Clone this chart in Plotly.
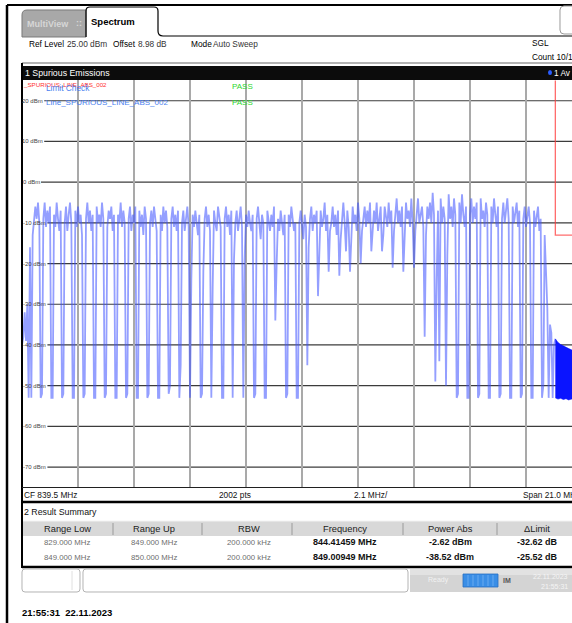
import numpy as np
import plotly.graph_objects as go

W, H = 572, 623
SANS = "Liberation Sans, Arial, sans-serif"

# ---- values ----
x_range_mhz = [829.0, 849.625]          # 829 .. 850 MHz span, right edge of the screenshot is cut
y_range_dbm = [-75.0, 25.0]             # ref level 25 dBm, 10 dB/div
grid_dbm = [20, 10, 0, -10, -20, -30, -40, -50, -60, -70]

start_mhz = 829.0
step_mhz = 0.05   # trace re-read every 50 kHz

lead_in_dbm = [-40, -38, -32, -39, -30, -53, -16, -53, -13, -10, -6, -9, -5, -10]

# one row per 400 kHz slot: notch (2 samples) then 6 samples of the carrier top
slot_dbm = [
    [-53, -52, -9, -5, -11, -7, -10, -6],
    [-53, -53, -8, -11, -5, -9, -12, -7],
    [-53, -52, -10, -6, -12, -8, -5, -10],
    [-53, -53, -7, -11, -6, -10, -8, -13],
    [-53, -52, -9, -5, -10, -7, -12, -8],
    [-53, -53, -6, -10, -8, -11, -5, -9],
    [-53, -52, -11, -7, -9, -6, -12, -8],
    [-53, -53, -8, -10, -5, -11, -7, -10],
    [-53, -52, -9, -6, -12, -8, -10, -6],
    [-53, -53, -7, -11, -8, -13, -6, -9],
    [-53, -52, -10, -7, -11, -6, -9, -12],
    [-53, -53, -8, -12, -6, -10, -7, -11],
    [-52, -50, -9, -6, -11, -8, -12, -7],
    [-53, -45, -10, -7, -12, -9, -6, -11],
    [-53, -24, -8, -11, -7, -10, -13, -8],
    [-53, -52, -22, -9, -6, -11, -8, -12],
    [-53, -26, -7, -10, -12, -6, -9, -11],
    [-53, -53, -9, -6, -11, -8, -13, -7],
    [-53, -19, -10, -7, -12, -9, -6, -11],
    [-53, -19, -8, -11, -7, -10, -12, -8],
    [-53, -52, -9, -6, -11, -14, -8, -10],
    [-53, -53, -7, -10, -12, -8, -11, -6],
    [-34, -20, -9, -12, -7, -10, -13, -8],
    [-53, -52, -8, -11, -6, -9, -12, -10],
    [-53, -53, -10, -7, -11, -14, -8, -11],
    [-45, -16, -9, -6, -12, -8, -10, -7],
    [-28, -15, -7, -11, -9, -5, -12, -8],
    [-22, -12, -10, -6, -11, -8, -13, -7],
    [-23, -14, -8, -5, -10, -17, -7, -11],
    [-22, -13, -6, -10, -8, -12, -5, -9],
    [-20, -12, -9, -6, -11, -7, -10, -5],
    [-17, -11, -7, -10, -5, -12, -8, -6],
    [-17, -13, -6, -9, -11, -5, -10, -7],
    [-21, -12, -8, -4, -10, -7, -11, -6],
    [-22, -14, -5, -9, -7, -11, -4, -10],
    [-21, -12, -7, -4, -10, -8, -6, -11],
    [-38, -13, -6, -9, -5, -10, -2.6, -8],
    [-49, -24, -7, -44, -4, -10, -6, -9],
    [-50, -18, -3, -9, -6, -11, -4, -8],
    [-53, -52, -5, -10, -3, -8, -11, -6],
    [-53, -53, -8, -4, -10, -6, -9, -5],
    [-53, -52, -4, -9, -7, -11, -5, -8],
    [-53, -53, -6, -10, -4, -8, -11, -6],
    [-53, -52, -9, -5, -10, -7, -4, -9],
    [-53, -53, -6, -10, -8, -5, -11, -7],
    [-53, -52, -9, -6, -11, -8, -6, -10],
    [-53, -53, -7, -11, -8, -6, -12, -9],
]
tail_dbm = [-53, -50, -13, -22, -31, -53, -35, -37, -53, -40, -38.5]

# 849-850 MHz range (dense trace)
band2_mhz = [849.0, 849.1, 849.2, 849.3, 849.4, 849.5, 849.6, 849.7, 849.8, 849.9, 850.0]
band2_top_dbm = [-38.5, -39.4, -39.9, -40.3, -40.6, -40.9, -41.2, -41.4, -41.6, -41.8, -42.0]
band2_floor_dbm = [-53.0, -53.3, -53.1, -53.4, -53.2, -53.5, -53.3, -53.4, -53.2, -53.4, -53.3]

limit_mhz = [829.0, 849.0, 849.0, 850.0]
limit_dbm = [30.0, 30.0, -13.0, -13.0]

summary_cols = ["Range Low", "Range Up", "RBW", "Frequency", "Power Abs", "ΔLimit"]
summary_rows = [
    ["829.000 MHz", "849.000 MHz", "200.000 kHz", "844.41459 MHz", "-2.62 dBm", "-32.62 dB"],
    ["849.000 MHz", "850.000 MHz", "200.000 kHz", "849.00949 MHz", "-38.52 dBm", "-25.52 dB"],
]

levels = lead_in_dbm + [v for row in slot_dbm for v in row] + tail_dbm
freqs = start_mhz + step_mhz * np.arange(len(levels))


def P(x, y):
    return f"{x / W:.5f},{1 - y / H:.5f}"


shapes = []
annotations = []


def line(x0, y0, x1, y1, color="black", width=1, layer="above"):
    shapes.append(dict(type="line", xref="paper", yref="paper", x0=x0 / W, x1=x1 / W,
                       y0=1 - y0 / H, y1=1 - y1 / H, line=dict(color=color, width=width), layer=layer))


def rect(x0, y0, x1, y1, fill, lc="rgba(0,0,0,0)", lw=0, layer="above"):
    shapes.append(dict(type="rect", xref="paper", yref="paper", x0=x0 / W, x1=x1 / W,
                       y0=1 - y1 / H, y1=1 - y0 / H, fillcolor=fill,
                       line=dict(color=lc, width=lw), layer=layer))


def path(d, fill="rgba(0,0,0,0)", lc="black", lw=1):
    shapes.append(dict(type="path", xref="paper", yref="paper", path=d, fillcolor=fill,
                       line=dict(color=lc, width=lw)))


def text(x, y, s, size=8, color="#222", anchor="left", family=SANS):
    annotations.append(dict(x=x / W, y=1 - y / H, xref="paper", yref="paper", text=s,
                            showarrow=False, xanchor=anchor, yanchor="middle", borderpad=0,
                            font=dict(family=family, size=size, color=color)))


fig = go.Figure()

fig.add_trace(go.Scatter(x=limit_mhz, y=limit_dbm, mode="lines",
                         line=dict(color="rgba(255,60,60,0.75)", width=1.3), hoverinfo="skip"))
fig.add_trace(go.Scatter(x=freqs, y=levels, mode="lines",
                         line=dict(color="rgba(60,80,255,0.55)", width=1.8), hoverinfo="skip"))
fig.add_trace(go.Scatter(x=band2_mhz + band2_mhz[::-1], y=band2_top_dbm + band2_floor_dbm[::-1],
                         mode="lines", fill="toself", fillcolor="#0a14ff",
                         line=dict(color="#0a14ff", width=0.6), hoverinfo="skip"))

# horizontal grid lines start right after their labels
for v in grid_dbm:
    lab = f"{v} dBm"
    x0 = 25 + 3.2 * len(lab)
    shapes.append(dict(type="line", xref="paper", yref="y", x0=x0 / W, x1=1, y0=v, y1=v,
                       line=dict(color="#3c3c3c", width=1.2), layer="between"))
    annotations.append(dict(x=x0 / W, y=v, xref="paper", yref="y", text=lab, showarrow=False,
                            xanchor="right", yanchor="middle", borderpad=0,
                            font=dict(family=SANS, size=6, color="#444")))

# ---- window chrome ----
line(7, 5, 572, 5, "black", 2)
line(7, 5, 7, 623, "black", 2.5)

# tabs
path(f"M {P(22,37)} L {P(22,15)} Q {P(22,10)} {P(27,10)} L {P(86,10)} L {P(86,37)} Z",
     fill="#a8a8a8", lc="#7a7a7a", lw=1)
text(26, 24, "<b>MultiView</b>", 9, "#d6d6d6")
text(75, 23, "<b>::</b>", 9, "#d6d6d6")
path(f"M {P(86,37)} L {P(86,11)} Q {P(86,7)} {P(90,7)} L {P(154,7)} Q {P(158,7)} {P(158,11)} "
     f"L {P(158,31)} Q {P(158,36)} {P(163,36)} L {P(572,36)}", lc="black", lw=1.2)
text(90, 22, "<b>Spectrum</b>", 9.5, "black")
path(f"M {P(582,34)} L {P(564,34)} Q {P(560,34)} {P(560,30)} L {P(560,10)} Q {P(560,6)} {P(564,6)} L {P(582,6)}",
     lc="#9a9a9a", lw=1)

# info row
text(28, 44, "Ref Level", 8.3, "black")
text(66, 44, "25.00 dBm", 8.3, "#333")
text(112, 44, "Offset", 8.3, "black")
text(137, 44, "8.98 dB", 8.3, "#333")
text(190, 44, "Mode", 8.3, "black")
text(212, 44, "Auto Sweep", 8.3, "#333")
text(531, 43, "SGL", 8.3, "black")
text(531, 57, "Count 10/1", 8.3, "black")
line(22, 63, 572, 63, "#9a9a9a", 1.5)

# diagram title bar
rect(22, 66, 572, 80, "#0c0c0c")
text(24, 73, "1 Spurious Emissions", 8.8, "white")
shapes.append(dict(type="circle", xref="paper", yref="paper", x0=548 / W, x1=552 / W,
                   y0=1 - 75 / H, y1=1 - 70 / H, fillcolor="#2a5cff", line=dict(width=0)))
text(553, 73, "1 Av", 8.3, "white")

# limit-check legend inside the diagram
text(22, 85, "_SPURIOUS_LINE_ABS_002", 6.2, "#ff3030")
text(45, 88, "Limit Check", 8.3, "#4a7ff0")
text(45, 102, "Line_SPURIOUS_LINE_ABS_002", 8, "#4a7ff0")
text(231, 87, "PASS", 8, "#2ed82e")
text(231, 102, "PASS", 8, "#2ed82e")

# diagram frame
line(22, 63, 22, 568, "black", 2)
line(22, 487.5, 572, 487.5, "#202020", 1.2)
line(22, 502, 572, 502, "black", 2.5)
text(23, 495, "CF 839.5 MHz", 8.3, "#111")
text(218, 495, "2002 pts", 8.3, "#111")
text(353, 495, "2.1 MHz/", 8.3, "#111")
text(522, 495, "Span 21.0 MH", 8.3, "#111")

# result summary table
text(23, 512, "2 Result Summary", 8.8, "#111")
rect(23, 521, 572, 536, "#d8d8d8")
line(23, 521, 572, 521, "#f2f2f2", 1)
for xs in [113, 202, 292, 403, 497]:
    line(xs, 523, xs, 535, "#9a9a9a", 1)
col_x = [67, 154, 249, 345, 450, 537]
for cx, name in zip(col_x, summary_cols):
    text(cx, 529, name, 9.3, "#222", "center")
for ry, row in zip([542, 557], summary_rows):
    for i, (cx, val) in enumerate(zip(col_x, row)):
        if i < 3:
            text(cx, ry, val, 7.8, "#6e6e6e", "center")
        else:
            text(cx, ry, f"<b>{val}</b>", 9, "#111", "center")
line(22, 567, 572, 567, "black", 2.5)

# status bar
for x0, x1 in [(22, 80), (83, 408)]:
    path(f"M {P(x0+3,569)} L {P(x1-3,569)} Q {P(x1,569)} {P(x1,572)} L {P(x1,589)} Q {P(x1,592)} {P(x1-3,592)} "
         f"L {P(x0+3,592)} Q {P(x0,592)} {P(x0,589)} L {P(x0,572)} Q {P(x0,569)} {P(x0+3,569)} Z",
         fill="white", lc="#b4b4b4", lw=1)
line(72, 571, 72, 590, "#e0e0e0", 1)
rect(410, 569, 572, 592, "#d4d4d4")
rect(410, 569, 572, 575, "#e2e2e2")
text(427, 580, "Ready", 7, "#f2f2f2")
rect(463, 574, 498, 587, "#3a8ee6", "#2a6fc0", 0.8)
for xs in [468, 473, 478, 483, 488, 493]:
    line(xs, 575, xs, 586, "#73b2f2", 0.8)
text(502, 580, "<b>IM</b>", 7, "#555")
text(532, 576, "22.11.2023", 7, "#f4f4f4")
text(540, 586, "21:55:31", 7, "#f4f4f4")

text(21, 612, "<b>21:55:31  22.11.2023</b>", 9.5, "black")

fig.update_layout(
    width=W, height=H,
    margin=dict(l=0, r=0, t=0, b=0),
    paper_bgcolor="white", plot_bgcolor="white",
    showlegend=False,
    xaxis=dict(domain=[22 / W, 1], range=x_range_mhz, tick0=829, dtick=2.1,
               showgrid=True, gridcolor="#a9a9a9", gridwidth=1.6,
               showticklabels=False, ticks="", zeroline=False, showline=False),
    yaxis=dict(domain=[(H - 487.4) / H, (H - 80.4) / H], range=y_range_dbm,
               showgrid=False, showticklabels=False, ticks="", zeroline=False, showline=False),
    shapes=shapes,
    annotations=annotations,
)

fig.write_html("out.html", config={"displayModeBar": False},
               post_script="document.body.style.margin='0';document.body.style.overflow='hidden';")
